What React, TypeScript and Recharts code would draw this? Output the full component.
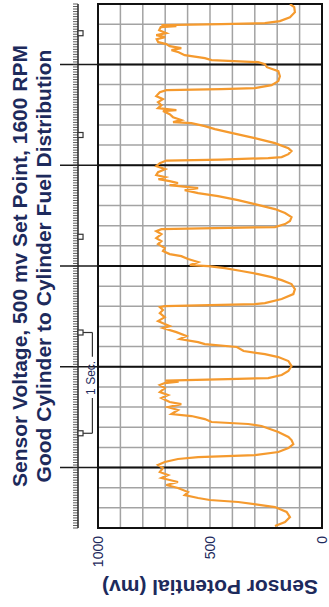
import React from 'react';
import {
  LineChart, Line, XAxis, YAxis, CartesianGrid,
  ReferenceLine, ReferenceArea, ReferenceDot
} from 'recharts';

// trace: time in seconds, sensor output in mV
const TIME_S = [
  0.02, 0.06, 0.109, 0.159, 0.208, 0.258, 0.278, 0.298, 0.327, 0.357,
  0.397, 0.427, 0.456, 0.496, 0.526, 0.556, 0.595, 0.625, 0.655, 0.685,
  0.704, 0.724, 0.754, 0.794, 0.833, 0.873, 0.903, 0.952, 1.012, 1.032,
  1.052, 1.081, 1.111, 1.131, 1.171, 1.2, 1.23, 1.25, 1.29, 1.319,
  1.349, 1.389, 1.419, 1.438, 1.453, 1.463, 1.478, 1.488, 1.518, 1.558,
  1.607, 1.657, 1.696, 1.726, 1.756, 1.796, 1.825, 1.845, 1.875, 1.905,
  1.944, 1.984, 2.004, 2.024, 2.054, 2.093, 2.133, 2.163, 2.192, 2.202,
  2.212, 2.222, 2.232, 2.272, 2.321, 2.371, 2.421, 2.46, 2.49, 2.52,
  2.55, 2.579, 2.599, 2.609, 2.639, 2.669, 2.698, 2.718, 2.748, 2.778,
  2.817, 2.847, 2.877, 2.917, 2.946, 2.966, 2.976, 2.986, 3.016, 3.046,
  3.085, 3.125, 3.165, 3.214, 3.254, 3.294, 3.323, 3.353, 3.373, 3.403,
  3.423, 3.442, 3.462, 3.482, 3.502, 3.531, 3.561, 3.591, 3.621, 3.646,
  3.656, 3.671, 3.681, 3.71, 3.74, 3.77, 3.819, 3.869, 3.919, 3.958,
  3.988, 4.018, 4.028, 4.048, 4.077, 4.107, 4.137, 4.147, 4.167, 4.196,
  4.226, 4.256, 4.286, 4.325, 4.345, 4.355, 4.365, 4.395, 4.435, 4.484,
  4.534, 4.573, 4.603, 4.623, 4.643, 4.663, 4.692, 4.722, 4.742, 4.762,
  4.782, 4.802, 4.821, 4.851, 4.871, 4.891, 4.911, 4.94, 4.97, 4.98,
  4.99, 5.0, 5.01, 5.03, 5.069, 5.119, 5.169, 5.2,
];

const SENSOR_MV = [
  210, 165, 143, 158, 210, 374, 501, 553, 613, 598,
  643, 695, 643, 717, 687, 724, 710, 732, 702, 643,
  553, 300, 195, 150, 128, 136, 150, 195, 270, 330,
  493, 523, 583, 672, 643, 687, 628, 680, 717, 687,
  724, 702, 724, 702, 640, 700, 420, 240, 180, 150,
  136, 150, 195, 255, 350, 380, 523, 553, 635, 605,
  650, 710, 680, 702, 732, 702, 724, 710, 724, 702,
  500, 300, 255, 180, 128, 121, 136, 180, 225, 285,
  360, 434, 508, 590, 553, 598, 628, 680, 710, 702,
  732, 717, 740, 717, 740, 717, 480, 210, 165, 143,
  136, 165, 210, 300, 375, 464, 553, 613, 553, 680,
  643, 680, 730, 700, 740, 732, 700, 740, 724, 695,
  450, 240, 180, 150, 136, 150, 210, 300, 400, 478,
  523, 583, 665, 628, 665, 680, 710, 650, 732, 717,
  732, 710, 740, 724, 695, 450, 300, 225, 195, 188,
  195, 246, 255, 285, 493, 523, 613, 640, 672, 628,
  680, 695, 731, 738, 700, 740, 695, 727, 720, 650,
  717, 450, 255, 188, 143, 121, 124, 143,
];

const GRID_T = Array.from({ length: 27 }, (_, i) => +(i * 0.2).toFixed(1));
const GRID_MV = [0, 100, 200, 300, 400, 500, 600, 700, 800, 900, 1000];
const MV_LABELS = [0, 500, 1000];
const MAJOR_T = [0.6, 1.6, 2.6, 3.6, 4.6];
const RULER_T = Array.from({ length: 209 }, (_, i) => +(i * 0.025).toFixed(3));
const MARKER_T = [0.94, 1.94, 2.89, 3.9, 4.91];

const NAVY = '#1d2a5c';
const FONT = '"Liberation Sans", Arial, sans-serif';

const data = TIME_S.map((t, i) => ({ t, mv: SENSOR_MV[i] }));

const EmptyTick = () => <g />;

const Marker = (p: any) => (
  <rect x={p.cx - 2.5} y={p.cy - 2.5} width={5} height={5} fill="#fff" stroke="#333" strokeWidth={1.2} />
);

export default function App() {
  return (
    <div style={{ position: 'absolute', left: 0, top: 0, width: 329, height: 607, overflow: 'hidden', background: '#fff' }}>
      {/* chart is laid out in landscape and turned a quarter turn left, as in the source scan */}
      <div
        style={{
          position: 'absolute', left: 0, top: 0, width: 607, height: 329,
          transformOrigin: '0 0', transform: 'translate(0px, 607px) rotate(-90deg)',
          fontFamily: FONT,
        }}
      >
        <div
          style={{
            position: 'absolute', left: 79, top: 8, width: 524, textAlign: 'center',
            fontSize: 21, fontWeight: 700, lineHeight: '24px', color: NAVY,
            whiteSpace: 'nowrap', zIndex: 1,
          }}
        >
          <div>Sensor Voltage, 500 mv Set Point, 1600 RPM</div>
          <div>Good Cylinder to Cylinder Fuel Distribution</div>
        </div>
        <LineChart width={607} height={329} data={data} margin={{ top: 58, right: 4, bottom: 7, left: 0 }}>
          <CartesianGrid stroke="#a3a3a3" strokeWidth={1.5} />
          <XAxis
            dataKey="t" type="number" domain={[0, 5.2]} ticks={GRID_T} interval={0}
            height={0} tick={EmptyTick} tickLine={false} axisLine={false} allowDataOverflow
          />
          <XAxis
            xAxisId="major" orientation="top" dataKey="t" type="number" domain={[0, 5.2]}
            ticks={MAJOR_T} interval={0} height={20} tick={EmptyTick} tickSize={38}
            tickLine={{ stroke: '#1a1a1a', strokeWidth: 1.6 }} axisLine={false} allowDataOverflow
          />
          <XAxis
            xAxisId="ruler" orientation="top" dataKey="t" type="number" domain={[0, 5.2]}
            ticks={RULER_T} interval={0} height={20} tick={EmptyTick} tickSize={5}
            tickLine={{ stroke: '#333', strokeWidth: 0.8 }} axisLine={{ stroke: '#222', strokeWidth: 1.5 }}
            allowDataOverflow
          />
          <YAxis
            type="number" domain={[0, 1000]} ticks={GRID_MV} interval={0} width={79}
            axisLine={false} tickLine={false}
            tickFormatter={(v: number) => (MV_LABELS.includes(v) ? String(v) : '')}
            tick={{ fontSize: 14, fill: NAVY, dy: 0 }}
            label={{
              value: 'Sensor Potential (mv)', angle: -90, position: 'insideLeft', offset: 20,
              style: { textAnchor: 'middle', fontSize: 21, fontWeight: 700, fill: NAVY },
            }}
          />
          {MAJOR_T.map((t) => (
            <ReferenceLine key={t} x={t} stroke="#111" strokeWidth={2} />
          ))}
          <ReferenceArea x1={0} x2={5.2} y1={0} y2={1000} fill="none" stroke="#111" strokeWidth={2} ifOverflow="visible" />
          {MARKER_T.map((t) => (
            <ReferenceDot key={t} x={t} y={1078} r={3} ifOverflow="visible" shape={Marker} />
          ))}
          {/* "1 Sec." bracket between two ruler markers */}
          <ReferenceLine segment={[{ x: 0.94, y: 1067 }, { x: 0.94, y: 1025 }]} stroke="#333" strokeWidth={1.2} ifOverflow="visible" />
          <ReferenceLine segment={[{ x: 0.94, y: 1025 }, { x: 1.29, y: 1025 }]} stroke="#333" strokeWidth={1.2} ifOverflow="visible" />
          <ReferenceLine segment={[{ x: 1.7, y: 1025 }, { x: 1.94, y: 1025 }]} stroke="#333" strokeWidth={1.2} ifOverflow="visible" />
          <ReferenceLine segment={[{ x: 1.94, y: 1025 }, { x: 1.94, y: 1067 }]} stroke="#333" strokeWidth={1.2} ifOverflow="visible" />
          <ReferenceDot
            x={1.49} y={1031} r={0} fill="none" stroke="none" ifOverflow="visible"
            label={{ value: '1 Sec.', position: 'center', fontSize: 12, fill: NAVY }}
          />
          <Line
            dataKey="mv" type="linear" stroke="#f59a2e" strokeWidth={2.2}
            dot={false} isAnimationActive={false}
          />
        </LineChart>
      </div>
    </div>
  );
}
